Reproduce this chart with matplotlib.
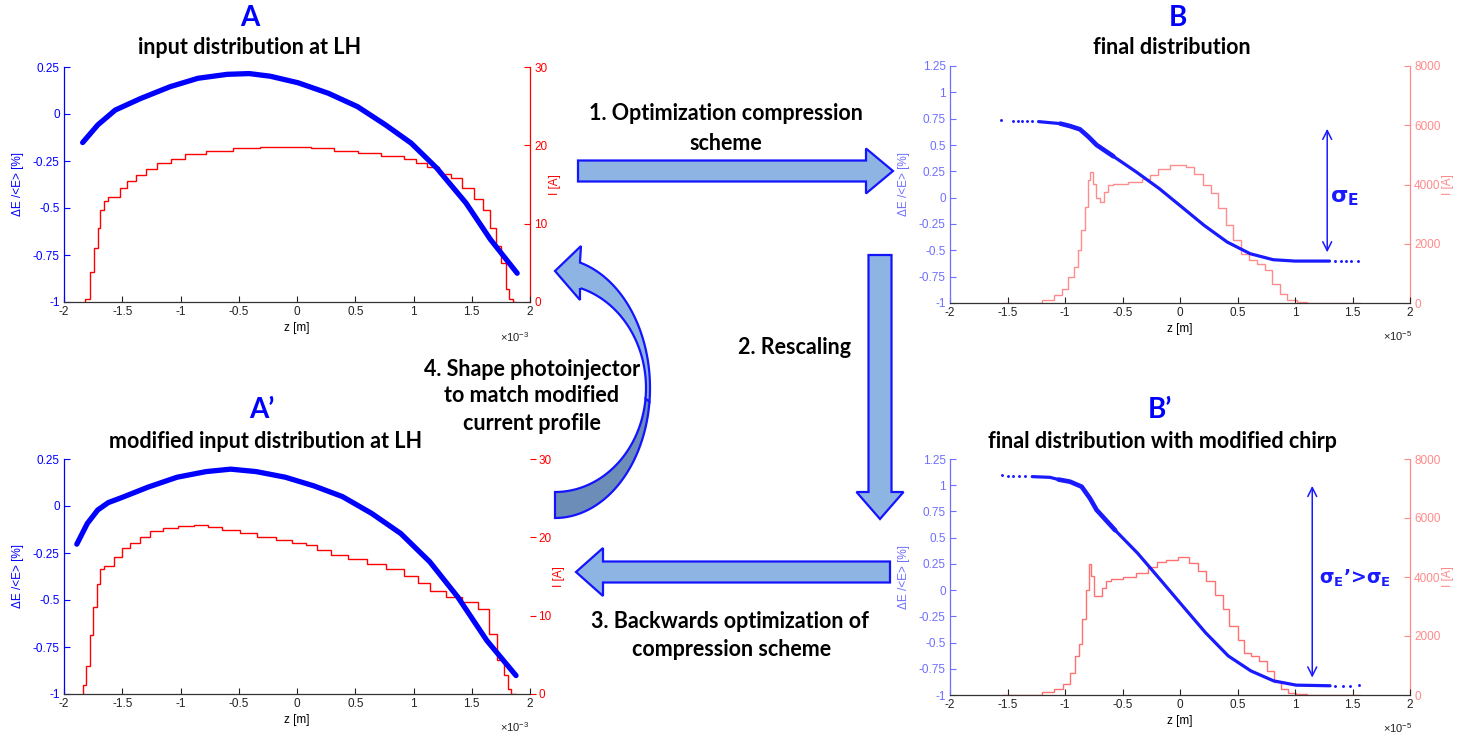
import matplotlib
matplotlib.use("Agg")
import matplotlib.pyplot as plt
from matplotlib.patches import Polygon
import numpy as np

plt.rcParams["axes.unicode_minus"] = False
plt.rcParams["font.family"] = ["Liberation Sans", "DejaVu Sans"]
plt.rcParams["mathtext.fontset"] = "custom"
plt.rcParams["mathtext.bf"] = "DejaVu Sans:bold"
plt.rcParams["mathtext.rm"] = "Liberation Sans"

# ---------------- data ----------------
# A: input distribution at LH (z in 1e-3 m, energy deviation in %, current in A)
zA = [-1.84, -1.71, -1.56, -1.34, -1.09, -0.85, -0.60, -0.41, -0.23, 0.01,
      0.27, 0.52, 0.76, 0.98, 1.20, 1.45, 1.66, 1.89]
dEA = [-0.152, -0.058, 0.021, 0.083, 0.145, 0.19, 0.211, 0.215, 0.201, 0.166,
       0.11, 0.039, -0.058, -0.155, -0.288, -0.473, -0.667, -0.847]
edgesA = [-1.82, -1.78, -1.74, -1.71, -1.69, -1.66, -1.62, -1.52, -1.46, -1.38,
          -1.30, -1.20, -1.08, -0.96, -0.78, -0.55, -0.32, -0.10, 0.12, 0.32,
          0.52, 0.72, 0.92, 1.02, 1.12, 1.22, 1.32, 1.42, 1.52, 1.60,
          1.66, 1.71, 1.75, 1.79, 1.82, 1.85, 1.88]
curA = [0.4, 3.8, 6.9, 9.4, 11.7, 12.9, 13.4, 14.6, 15.5, 16.2,
        17.0, 17.7, 18.3, 18.9, 19.3, 19.6, 19.8, 19.8, 19.6, 19.3,
        19.0, 18.7, 18.2, 17.8, 17.2, 16.4, 15.8, 14.6, 13.2, 11.8,
        9.4, 7.1, 5.0, 1.6, 0.4, 0.0]

# A': modified input distribution at LH
zAp = [-1.89, -1.80, -1.71, -1.62, -1.50, -1.28, -1.03, -0.78, -0.57, -0.35,
       -0.10, 0.145, 0.39, 0.64, 0.89, 1.14, 1.38, 1.63, 1.88]
dEAp = [-0.203, -0.093, -0.021, 0.018, 0.046, 0.10, 0.153, 0.183, 0.196, 0.183,
        0.153, 0.107, 0.05, -0.039, -0.146, -0.297, -0.484, -0.716, -0.902]
edgesAp = [-1.84, -1.81, -1.78, -1.75, -1.72, -1.69, -1.66, -1.57, -1.50, -1.43,
           -1.35, -1.26, -1.15, -1.02, -0.88, -0.76, -0.64, -0.49, -0.34, -0.18,
           -0.04, 0.08, 0.17, 0.29, 0.44, 0.60, 0.76, 0.92, 1.04, 1.14,
           1.28, 1.42, 1.55, 1.65, 1.72, 1.78, 1.81, 1.84, 1.88]
curAp = [1.2, 3.6, 7.5, 11.1, 14.1, 16.0, 16.3, 17.5, 18.6, 19.3,
         20.1, 20.8, 21.2, 21.4, 21.6, 21.3, 21.0, 20.6, 20.1, 19.7,
         19.3, 19.0, 18.4, 17.8, 17.2, 16.6, 15.9, 15.1, 14.2, 13.2,
         12.4, 11.7, 10.8, 7.7, 4.3, 2.4, 0.6, 0.0]

# B: final distribution (z in 1e-5 m)
zB = [-1.23, -1.13, -1.04, -0.957, -0.87, -0.797, -0.725, -0.58, -0.38, -0.18,
      0.016, 0.21, 0.41, 0.61, 0.81, 1.0, 1.30]
dEB = [0.722, 0.712, 0.703, 0.68, 0.649, 0.579, 0.50, 0.393, 0.244, 0.086,
       -0.089, -0.263, -0.421, -0.532, -0.589, -0.602, -0.602]
zB_dots = [-1.556, -1.45, -1.41, -1.37, -1.33, -1.29, 1.35, 1.40, 1.44, 1.49, 1.55]
dEB_dots = [0.735, 0.729, 0.728, 0.727, 0.726, 0.725, -0.602, -0.601, -0.601, -0.600, -0.600]
edgesB = [-1.55, -1.20, -1.10, -1.03, -0.97, -0.92, -0.89, -0.86, -0.83, -0.80,
          -0.78, -0.755, -0.73, -0.70, -0.66, -0.63, -0.58, -0.45, -0.33, -0.26,
          -0.19, -0.09, 0.05, 0.12, 0.20, 0.27, 0.33, 0.40, 0.46, 0.53,
          0.60, 0.67, 0.74, 0.80, 0.87, 0.93, 1.02, 1.10, 1.20, 1.57]
curB = [10, 90, 260, 480, 880, 1220, 1780, 2460, 3250, 4150,
        4430, 4030, 3530, 3410, 3750, 3980, 4030, 4090, 4200, 4310,
        4540, 4650, 4600, 4370, 3980, 3700, 3190, 2630, 2120, 1670,
        1440, 1330, 1100, 650, 315, 110, 35, 10, 0]

# B': final distribution with modified chirp
zBp = [-1.285, -1.13, -1.056, -0.957, -0.855, -0.783, -0.725, -0.564, -0.367, -0.17,
       0.026, 0.223, 0.42, 0.616, 0.813, 1.01, 1.305]
dEBp = [1.082, 1.075, 1.054, 1.034, 0.986, 0.875, 0.764, 0.571, 0.35, 0.098,
        -0.155, -0.407, -0.628, -0.77, -0.865, -0.906, -0.912]
zBp_dots = [-1.55, -1.50, -1.45, -1.40, -1.35, 1.35, 1.42, 1.48, 1.56]
dEBp_dots = [1.095, 1.092, 1.09, 1.088, 1.085, -0.912, -0.911, -0.91, -0.905]
edgesBp = [-1.55, -1.20, -1.10, -1.02, -0.96, -0.91, -0.88, -0.85, -0.82, -0.795,
           -0.775, -0.75, -0.72, -0.68, -0.64, -0.60, -0.50, -0.38, -0.28, -0.20,
           -0.12, -0.02, 0.08, 0.16, 0.23, 0.30, 0.37, 0.43, 0.50, 0.56,
           0.62, 0.69, 0.76, 0.82, 0.88, 0.94, 1.01, 1.10, 1.20, 1.57]
curBp = [10, 90, 200, 370, 760, 1320, 1720, 2560, 3570, 4440,
         4020, 3350, 3350, 3620, 3850, 3930, 4000, 4130, 4350, 4500,
         4580, 4670, 4470, 4190, 3850, 3400, 2900, 2330, 1880, 1440,
         1320, 1160, 820, 430, 200, 70, 20, 5, 0]

# energy spread markers (z, dE_low, dE_high)
sigmaB = (1.28, -0.545, 0.68)
sigmaBp = (1.15, -0.86, 1.02)

z_ticks = [-2, -1.5, -1, -0.5, 0, 0.5, 1, 1.5, 2]
z_ticklabels = ["-2", "-1.5", "-1", "-0.5", "0", "0.5", "1", "1.5", "2"]
dE_ticks_A = [-1, -0.75, -0.5, -0.25, 0, 0.25]
dE_ticks_B = [-1, -0.75, -0.5, -0.25, 0, 0.25, 0.5, 0.75, 1, 1.25]
I_ticks_A = [0, 10, 20, 30]
I_ticks_B = [0, 2000, 4000, 6000, 8000]

# ---------------- figure ----------------
W, H = 1472, 736
fig = plt.figure(figsize=(W / 100, H / 100), dpi=100)

TICK_FS = 8.5
BLUE = "#0000ff"
RED = "#ff0000"


def px_axes(l, t, r, b):
    return fig.add_axes([l / W, 1 - b / H, (r - l) / W, (b - t) / H])


def make_panel(box, z, dE, edges, cur, dE_ticks, I_ticks, blue_c, red_c,
               line_c, hist_c, lw, dots=None, knee=None, right_spine=True):
    ax = px_axes(*box)
    ax2 = ax.twinx()
    ax.set_zorder(ax2.get_zorder() + 1)
    ax.patch.set_visible(False)

    ax2.stairs(cur, edges, baseline=0, color=hist_c, lw=1.0)
    ax.plot(z, dE, color=line_c, lw=lw, solid_capstyle="round",
            solid_joinstyle="round")
    if knee is not None:
        # the bunch is visibly broader around the knee of the chirp
        i0, i1 = knee
        ax.plot(z[i0:i1], dE[i0:i1], color=line_c, lw=lw * 1.45,
                solid_capstyle="round", solid_joinstyle="round")
    if dots is not None:
        ax.plot(dots[0], dots[1], ".", color=line_c, ms=2.2)

    ax.set_xlim(-2, 2)
    ax.set_ylim(dE_ticks[0], dE_ticks[-1])
    ax2.set_ylim(I_ticks[0], I_ticks[-1])
    ax.set_xticks(z_ticks)
    ax.set_xticklabels(z_ticklabels)
    ax.set_yticks(dE_ticks)
    ax.set_yticklabels(["%g" % v for v in dE_ticks])
    ax2.set_yticks(I_ticks)
    ax2.set_yticklabels(["%g" % v for v in I_ticks])

    for a in (ax, ax2):
        a.spines["top"].set_visible(False)
    ax.spines["right"].set_visible(False)
    ax2.spines["left"].set_visible(False)
    ax2.spines["bottom"].set_visible(False)
    ax.spines["left"].set_color(blue_c)
    ax.spines["bottom"].set_color("#333333")
    ax2.spines["right"].set_color(red_c)
    for sp in ax.spines.values():
        sp.set_linewidth(0.9)
    ax2.spines["right"].set_linewidth(0.9)

    ax.tick_params(axis="x", direction="in", length=4, width=0.8,
                   labelsize=TICK_FS, colors="#222222", pad=3)
    ax.tick_params(axis="y", direction="in", length=4, width=0.8,
                   labelsize=TICK_FS, colors=blue_c, pad=3)
    if right_spine:
        ax2.tick_params(axis="y", direction="in", length=4, width=0.8,
                        labelsize=TICK_FS, colors=red_c, pad=3)
    else:
        ax2.spines["right"].set_visible(False)
        ax2.tick_params(axis="y", direction="out", length=4, width=0.8,
                        labelsize=TICK_FS, colors=red_c, pad=2)

    ax.set_xlabel("z [m]", fontsize=TICK_FS, labelpad=3)
    ax.set_ylabel("\u0394E /<E> [%]", fontsize=TICK_FS, color=blue_c, labelpad=6)
    ax2.set_ylabel("I [A]", fontsize=TICK_FS, color=red_c, labelpad=1)
    return ax, ax2


axA, _ = make_panel((64, 67, 530, 302), zA, dEA, edgesA, curA, dE_ticks_A,
                    I_ticks_A, BLUE, RED, BLUE, RED, 3.8)
axAp, _ = make_panel((64, 459, 530, 694), zAp, dEAp, edgesAp, curAp, dE_ticks_A,
                     I_ticks_A, BLUE, RED, BLUE, RED, 3.8, right_spine=False)
axB, _ = make_panel((950, 66, 1410, 303), zB, dEB, edgesB, curB, dE_ticks_B,
                    I_ticks_B, "#6f6fff", "#ff8a8a", "#1a1aff", "#ff8c8c", 2.3,
                    dots=(zB_dots, dEB_dots), knee=(2, 8))
axBp, _ = make_panel((950, 459, 1410, 695), zBp, dEBp, edgesBp, curBp, dE_ticks_B,
                     I_ticks_B, "#6f6fff", "#ff8a8a", "#1a1aff", "#ff7070", 2.3,
                     dots=(zBp_dots, dEBp_dots), knee=(2, 8))

# energy-spread double arrows
for ax, (zs, lo, hi) in ((axB, sigmaB), (axBp, sigmaBp)):
    ax.annotate("", xy=(zs, hi), xytext=(zs, lo),
                arrowprops=dict(arrowstyle="<->", color="#1a1aff", lw=1.1,
                                mutation_scale=16))

# ---------------- overlay: titles, block arrows, notes ----------------
ov = fig.add_axes([0, 0, 1, 1])
ov.set_xlim(0, W)
ov.set_ylim(H, 0)
ov.axis("off")

TITLE_FONT = ["Lato", "DejaVu Sans"]


def txt(x, y, s, size=15.5, color="black", weight="bold", family=TITLE_FONT, ha="center"):
    ov.text(x, y, s, fontsize=size, color=color, fontweight=weight,
            family=family, ha=ha, va="center")


# panel titles
txt(250, 18, "A", size=20, color=BLUE)
txt(250, 48, "input distribution at LH")
txt(262, 410, "A\u2019", size=20, color=BLUE)
txt(266, 442, "modified input distribution at LH")
txt(1178, 18, "B", size=20, color=BLUE)
txt(1172, 48, "final distribution")
txt(1160, 410, "B\u2019", size=20, color=BLUE)
txt(1162, 442, "final distribution with modified chirp")

# axis multipliers
for x, y, e in ((515, 337, "-3"), (515, 727, "-3"), (1398, 336, "-5"), (1398, 728, "-5")):
    ov.text(x, y, r"$\times\mathregular{10^{%s}}$" % e, fontsize=8, ha="center",
            va="center", color="#222222")

# step descriptions
txt(726, 114, "1. Optimization compression")
txt(726, 143, "scheme")
txt(795, 347, "2. Rescaling")
txt(730, 622, "3. Backwards optimization of")
txt(732, 650, "compression scheme")
txt(532, 369, "4. Shape photoinjector")
txt(532, 396, "to match modified")
txt(532, 423, "current profile")

# energy spread labels
SIG = r"$\mathbf{\sigma}_{\mathbf{E}}$"
ov.text(1330, 198, SIG, fontsize=16, color="#1a1aff", ha="left", va="center")
ov.text(1319, 578, SIG + "\u2019>" + SIG, fontsize=13.5, color="#1a1aff",
        fontweight="bold", family=["DejaVu Sans"], ha="left", va="center")

FILL = "#8db4e2"
DARK = "#6b8db8"
EDGE = "#1414ff"


def block_arrow(tail, tip, body_w, head_w, head_len):
    t = np.array(tail, float)
    p = np.array(tip, float)
    d = (p - t) / np.linalg.norm(p - t)
    n = np.array([-d[1], d[0]])
    neck = p - d * head_len
    pts = [t + n * body_w / 2, neck + n * body_w / 2, neck + n * head_w / 2, p,
           neck - n * head_w / 2, neck - n * body_w / 2, t - n * body_w / 2]
    ov.add_patch(Polygon(pts, closed=True, facecolor=FILL, edgecolor=EDGE, lw=1.6))


block_arrow((578, 171), (893, 171), 21, 45, 27)
block_arrow((880, 255), (880, 519), 23, 47, 27)
block_arrow((890, 572), (576, 572), 21, 48, 27)

# curved return arrow (step 4)
cx, cy = 555, 388
rxo, ryo = 95, 130
rxi, ryi = 91, 104
t_top_o = np.degrees(np.arccos(25 / rxo))
t_top_i = np.degrees(np.arccos(25 / rxi))
t_split = -6


def ell(rx, ry, t0, t1, n=60):
    tt = np.radians(np.linspace(t0, t1, n))
    return np.column_stack([cx + rx * np.cos(tt), cy - ry * np.sin(tt)])


outer_up = ell(rxo, ryo, t_top_o, t_split)
inner_up = ell(rxi, ryi, t_split, t_top_i)
head = np.array([[580, 288], [580, 300], [555, 271], [581, 246], [580, 262]])
light = np.vstack([outer_up, inner_up, head])
ov.add_patch(Polygon(light, closed=True, facecolor=FILL, edgecolor=EDGE, lw=1.6))

outer_dn = ell(rxo, ryo, t_split, -90)
inner_dn = ell(rxi, ryi, -90, t_split)
dark = np.vstack([outer_dn, inner_dn])
ov.add_patch(Polygon(dark, closed=True, facecolor=DARK, edgecolor=EDGE, lw=1.6))

fig.savefig("out.png", dpi=100)
